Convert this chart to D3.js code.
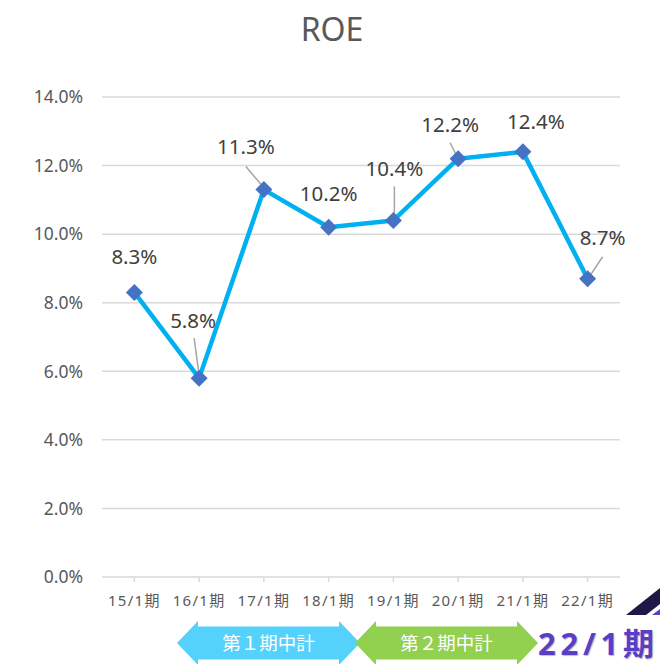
<!DOCTYPE html>
<html><head><meta charset="utf-8">
<script src="https://cdn.jsdelivr.net/npm/d3@7"></script>
<style>
html,body{margin:0;padding:0;background:#fff;}
svg{display:block;}
</style></head>
<body>
<svg id="chart" width="660" height="664"></svg>
<script>
const categories = ["15/1期","16/1期","17/1期","18/1期","19/1期","20/1期","21/1期","22/1期"];
const roeValues = [8.3, 5.8, 11.3, 10.2, 10.4, 12.2, 12.4, 8.7];
const yTicks = [0, 2, 4, 6, 8, 10, 12, 14];
const planLabels = ["第１期中計", "第２期中計"];
const currentLabel = "22/1期";
const titleText = "ROE";

// layout-only: label offsets from point centre, and leader line offsets
const labelOffsets = [[0,-36],[-6,-58],[-18,-43],[0,-34],[1,-52],[-8,-34],[13,-30],[15,-41]];
const leaders = [null, [[-5,-40],[0,-3]], [[-18,-23],[-1,-3]], null, [[1,-34],[1,-5]], [[-8,-16],[-2,-4]], null, [[15,-22],[3,-4]]];

const svg = d3.select("#chart");
const FONT = "'Noto Sans', 'Noto Sans CJK JP', sans-serif";

const x = d3.scaleBand().domain(categories).range([102, 620]);
const cx = c => x(c) + x.bandwidth() / 2;
const y = d3.scaleLinear().domain([0, 14]).range([577, 97]);

// title
svg.append("text").attr("x", 332).attr("y", 41).attr("text-anchor", "middle")
  .attr("font-family", FONT).attr("font-size", 32).attr("fill", "#595959").text(titleText);

// gridlines
svg.append("g").selectAll("line").data(yTicks).join("line")
  .attr("x1", 102).attr("x2", 620)
  .attr("y1", d => y(d)).attr("y2", d => y(d))
  .attr("stroke", "#d9d9d9").attr("stroke-width", 1.5);

// y labels
svg.append("g").selectAll("text").data(yTicks).join("text")
  .attr("x", 83).attr("y", d => y(d)).attr("dy", "0.36em")
  .attr("text-anchor", "end").attr("font-family", FONT).attr("font-size", 17.5)
  .attr("fill", "#595959").text(d => d.toFixed(1) + "%");

// x axis ticks + labels
const xAxis = svg.append("g");
xAxis.selectAll("line").data(categories).join("line")
  .attr("x1", d => cx(d)).attr("x2", d => cx(d)).attr("y1", 577).attr("y2", 582)
  .attr("stroke", "#d9d9d9").attr("stroke-width", 1.5);
xAxis.selectAll("text").data(categories).join("text")
  .attr("x", d => cx(d)).attr("y", 601).attr("dy", "0.36em")
  .attr("text-anchor", "middle").attr("font-family", FONT).attr("font-size", 15)
  .attr("letter-spacing", 1.3)
  .attr("fill", "#595959").text(d => d);

// line
const pts = categories.map((c, i) => [cx(c), y(roeValues[i])]);
svg.append("path").datum(pts).attr("d", d3.line())
  .attr("fill", "none").attr("stroke", "#00B0F0").attr("stroke-width", 4.5)
  .attr("stroke-linejoin", "round");

// leader lines
svg.append("g").selectAll("line").data(pts.map((p, i) => [p, leaders[i]]).filter(d => d[1]))
  .join("line")
  .attr("x1", d => d[0][0] + d[1][0][0]).attr("y1", d => d[0][1] + d[1][0][1])
  .attr("x2", d => d[0][0] + d[1][1][0]).attr("y2", d => d[0][1] + d[1][1][1])
  .attr("stroke", "#a6a6a6").attr("stroke-width", 1.5);

// markers
svg.append("g").selectAll("path").data(pts).join("path")
  .attr("d", d3.symbol(d3.symbolSquare, 144))
  .attr("transform", d => `translate(${d[0]},${d[1]}) rotate(45)`)
  .attr("fill", "#4472C4");

// data labels
svg.append("g").selectAll("text").data(pts).join("text")
  .attr("x", (d, i) => d[0] + labelOffsets[i][0])
  .attr("y", (d, i) => d[1] + labelOffsets[i][1])
  .attr("dy", "0.36em").attr("text-anchor", "middle")
  .attr("font-family", FONT).attr("font-size", 20.5).attr("fill", "#404040")
  .text((d, i) => roeValues[i].toFixed(1) + "%");

// double arrows
function dblArrow(x0, x1, cy, headLen, halfBody, halfHead) {
  return [[x0, cy], [x0 + headLen, cy - halfHead], [x0 + headLen, cy - halfBody],
          [x1 - headLen, cy - halfBody], [x1 - headLen, cy - halfHead], [x1, cy],
          [x1 - headLen, cy + halfHead], [x1 - headLen, cy + halfBody],
          [x0 + headLen, cy + halfBody], [x0 + headLen, cy + halfHead]];
}
const arrows = [
  {x0: 177, x1: 360, color: "#55D2FB"},
  {x0: 355, x1: 538, color: "#92D050"}
];
const ag = svg.append("g");
arrows.forEach((a, i) => {
  ag.append("polygon").attr("points", dblArrow(a.x0, a.x1, 643, 21, 16.5, 22).map(p => p.join(",")).join(" "))
    .attr("fill", a.color);
  ag.append("text").attr("x", (a.x0 + a.x1) / 2).attr("y", 643).attr("dy", "0.36em")
    .attr("text-anchor", "middle").attr("font-family", "'Noto Sans CJK JP', sans-serif")
    .attr("font-size", 18.5).attr("fill", "#ffffff").text(planLabels[i]);
});

// decoration at bottom right
svg.append("polygon").attr("points", "626,615 646,615 660,604 660,588").attr("fill", "#1e1848");
svg.append("polygon").attr("points", "652,615 660,615 660,609").attr("fill", "#5a3ec8");

svg.append("text").attr("x", 538).attr("y", 655)
  .attr("font-family", "'Noto Sans', 'Noto Sans CJK JP', sans-serif").attr("font-weight", "bold")
  .attr("font-size", 31).attr("fill", "#5a3ec8").attr("textLength", 116)
  .attr("style", "text-shadow:1px 1px 1px rgba(0,0,0,0.25)")
  .text(currentLabel);
</script>
</body></html>
